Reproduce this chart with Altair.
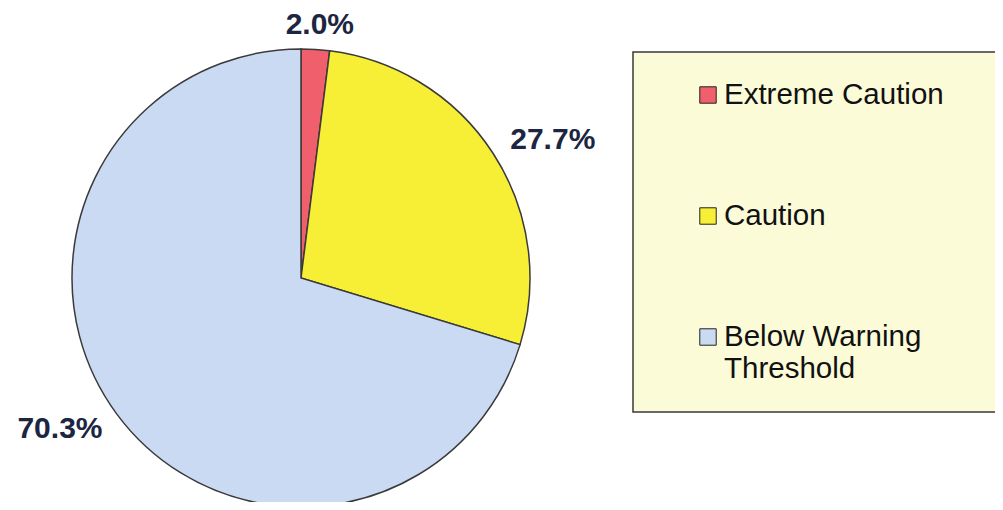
import altair as alt
import pandas as pd

categories = ["Extreme Caution", "Caution", "Below Warning Threshold"]
values = [2.0, 27.7, 70.3]
pct_labels = ["2.0%", "27.7%", "70.3%"]
legend_labels = ["Extreme Caution", "Caution", "Below Warning\nThreshold"]
colors = ["#ef5f6c", "#f7ef36", "#c9daf2"]

df = pd.DataFrame({
    "category": categories,
    "value": values,
    "label": pct_labels,
    "order": [0, 1, 2],
})
leg_df = pd.DataFrame({"category": categories, "text": legend_labels})

color = alt.Color("category:N", scale=alt.Scale(domain=categories, range=colors), legend=None)

CX, CY, R = 293, 270, 229
RX, RY = 300, 253  # label ring (elliptical, as the labels sit beside the pie)

pie = alt.Chart(df).mark_arc(outerRadius=R, stroke="#3a3a3a", strokeWidth=1.5).encode(
    theta=alt.Theta("value:Q", stack=True),
    order=alt.Order("order:Q"),
    color=color,
    x=alt.value(CX), y=alt.value(CY),
)

text = alt.Chart(df).transform_window(
    cum="sum(value)", sort=[alt.SortField("order")]
).transform_joinaggregate(
    total="sum(value)"
).transform_calculate(
    ang="2*PI*(datum.cum - datum.value/2)/datum.total"
).transform_calculate(
    lx=f"{CX} + {RX}*sin(datum.ang)",
    ly=f"{CY} - {RY}*cos(datum.ang)",
).mark_text(
    font="Liberation Sans", fontWeight="bold", fontSize=30, color="#1c2541",
    align="center", baseline="middle"
).encode(
    text="label:N",
    x=alt.X("lx:Q", scale=None, axis=None),
    y=alt.Y("ly:Q", scale=None, axis=None),
)

box = alt.Chart(pd.DataFrame({"a": [0]})).mark_rect(
    fill="#fbfbd8", stroke="#3a3a3a", strokeWidth=1.5
).encode(
    x=alt.value(625), x2=alt.value(1030), y=alt.value(44), y2=alt.value(404)
)

ly = alt.Y("category:N", scale=alt.Scale(domain=categories, range=[87, 329], padding=0), axis=None)

squares = alt.Chart(leg_df).mark_square(size=270, stroke="#222", strokeWidth=1, opacity=1).encode(
    x=alt.value(700), y=ly, color=color
)

leg_text = alt.Chart(leg_df).mark_text(
    align="left", baseline="middle", lineBreak="\n", font="Liberation Sans",
    fontSize=29.5, color="#111", lineHeight=32
).encode(
    x=alt.value(716), y=ly, text="text:N"
)

chart = alt.layer(box, pie, text, squares, leg_text).resolve_scale(
    y="independent", x="independent"
).properties(
    width=987, height=494
).configure(
    padding=0, background="white", autosize=alt.AutoSizeParams(type="none"),
    view=alt.ViewConfig(strokeWidth=0)
)

chart.save("out.html", embed_options={"renderer": "svg", "actions": False})
